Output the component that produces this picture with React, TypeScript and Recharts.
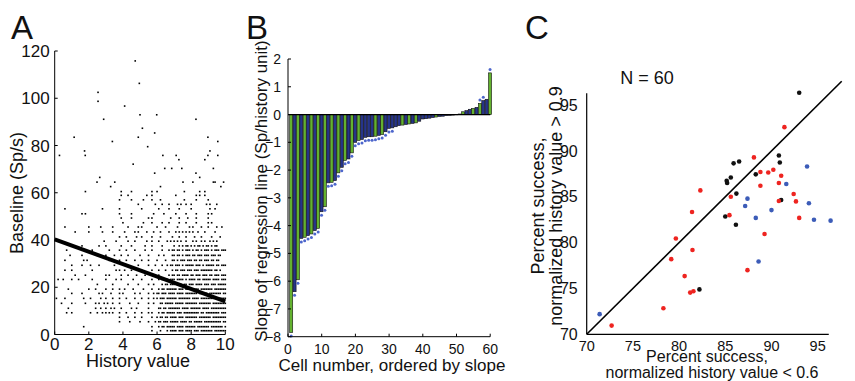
import React from "react";
import { ScatterChart, Scatter, BarChart, Bar, XAxis, YAxis, ReferenceLine } from "recharts";

const FONT = '"Liberation Sans", Arial, Helvetica, sans-serif';
const INK = "#111";

// ---- panel A: baseline vs history value ----
// dense part of the cloud, one string per baseline row: groups of ten
// characters per history unit (0.1 steps), '#' = a trial
const aDotRows: [number, string][] = [
  [1.6, "----------|----------|----------|----------|----------|-------#--|--#---#-##|##-###-###|#-###-####|###-######|#"],
  [3.3, "----------|-------#--|----------|----------|----------|-------#--|-#-##-####|#-####-###|###-######|#-#######-|#"],
  [5.4, "----------|----------|----------|--------#-|----#-----|#----#---#|-##-###-##|###-####-#|#-#####-##|########-#|#"],
  [7.3, "----------|----------|----------|--------#-|---#---#--|-#-----#--|#-##-##-##|##-###-###|####-#####|##-#######|#"],
  [9.2, "-------#--|#---------|-#---#--#-|#-#-#---#-|--#----#--|-#---#-#--|-#-##-####|#-###-####|#####-##-#|#######-##|#"],
  [11.1, "--------#-|----------|----#--#--|#--#-#---#|-----#--#-|-----#----|-##-##-###|####-####-|######-###|#-########|#"],
  [13.2, "----#-----|#-------#-|----#-#--#|-#--#---#-|----#----#|-----#--#-|--##-#####|-#####-###|####-#####|##-#######|#"],
  [15.3, "-#----#---|-------#--|-#-----#--|#---#---#-|--#----#--|-#---#--#-|#-###-####|##-#######|-####-####|#####-####|#"],
  [17.4, "----------|#-----#---|------#-#-|---#----#-|#------#--|#----#--#-|##-###-###|#-####-###|####-#####|-#######-#|#"],
  [19.2, "--------#-|----------|#---#-----|#---#---#-|-#----#---|--#----#--|-#-##-####|##-###-##-|#####-####|###-######|#"],
  [21.2, "----------|----------|-----#----|----#-----|---#-----#|-----#--#-|---#-##-##|#-###-##-#|##-####-##|#-###-####|#"],
  [23.3, "--#--#----|#---#-----|--#-------|#-----#--#|------#---|-#-----#--|-#-##-#-##|#-####-#-#|###-##-###|##-####-##|#"],
  [25.1, "----------|--#-----#-|----------|#-#------#|---#----#-|---#---#--|-#-----#-#|#-##-####-|##-###-###|-##-###-##|#"],
  [27.2, "------#---|#---------|--#-------|------#-#-|-#---#----|-#-----#--|-#---#---#|-##-###-##|#-###-####|###-##-#--|-"],
  [29.3, "----------|#-----#---|-#----#---|-----#----|--#------#|-----#---#|---#--#-##|-###-#-###|##-###-#-#|####-##-##|#"],
  [31.4, "------#---|-------#-#|----------|--#-----#-|--#----#--|-#---#----|#----#---#|#-#-###-##|#-##-##-##|#-##-##---|-"],
  [33.5, "---------#|------#---|-----#----|#----#---#|---#------|#----#----|-#--#----#|#-##-#-###|-##-###-##|#-###-##--|-"],
  [35.7, "-------#--|----------|--#-------|--#-----#-|--#----#--|---#---#--|---#---#-#|#-##-#-###|-#-##-#-##|#-#-###-##|#"],
  [37.5, "----------|------#---|------#---|#--------#|-----#----|---#---#--|---#------|#--#-#-##-|#-#-##-#-#|#-#-##----|-"],
  [39.5, "----------|----------|---------#|------#---|---#---#--|----#--#--|-#----#-#-|#-#-#--#--|-#-#--#-#-|-#-#-#----|-"],
  [41.3, "----------|----------|----------|--------#-|--#-----#-|-#-----#--|--#------#|---#---#--|--#---#---|--#----#--|-"],
  [43.4, "----------|--#-------|#-------#-|----#-----|-#-----#-#|----#---#-|--#----#--|-#-#-#-#-#|-#--#---#-|----#-----|-"],
  [45.5, "------#---|----------|#------#--|----#-----|---#-----#|-#--------|#----#----|--#------#|-#----#---|#----#--#-|-"],
  [47.3, "----------|----------|----------|----------|#---------|--#----#--|---#---#--|---#---#--|---#------|#-#-------|-"],
  [49.3, "----------|----------|----------|---------#|-----#----|-----#-#--|--------#-|---#----#-|---#------|#---------|-"],
  [51.1, "----------|------#-#-|----------|--------#-|-----#----|--------#-|----#-----|-#-----#--|---#------|#-#-------|-"],
  [53.2, "------#---|----------|--------#-|--------#-|----------|-#--------|-#-----#--|---#------|#---------|-#--#-----|-"],
  [55.1, "----------|----------|----------|----------|---------#|---------#|---#---#--|--#-#--#--|#--------#|-#---#----|-"],
  [57.0, "----------|----------|----------|--------#-|-----#----|--#----#--|--#-------|------#---|---#------|#---------|-"],
  [58.9, "----------|----------|----------|---------#|---#------|----#--#--|----------|-#--------|---#-#--#-|----------|-"],
  [60.5, "----------|--------#-|----------|---------#|-----#----|-------#--|#---------|------#---|-----#--#-|----------|-"],
];

// sparse trials above the dense cloud [history value, baseline]
const aSparse: [number, number][] = [
  [0.28, 75.8], [1.14, 83.5], [1.75, 77.7], [1.79, 75.8], [2.48, 64.5], [2.54, 102.5],
  [2.54, 98.7], [2.64, 66.5], [2.87, 91.1], [3.28, 62.6], [3.38, 81.7], [3.52, 64.5],
  [4.1, 96.7], [4.6, 72.1], [4.72, 115.8], [4.9, 83.5], [4.96, 106.3], [5.0, 93.0],
  [5.14, 87.3], [5.45, 79.5], [5.86, 85.3], [5.86, 68.3], [5.98, 93.0], [6.2, 62.6],
  [6.34, 75.8], [6.45, 70.3], [6.86, 70.3], [7.12, 75.8], [7.28, 74.0], [7.45, 70.3],
  [7.52, 64.5], [8.1, 64.5], [8.28, 91.1], [8.28, 68.3], [8.5, 66.5], [8.8, 74.0],
  [8.98, 83.5], [8.98, 75.8], [9.1, 77.7], [9.3, 70.3], [9.3, 64.5], [9.4, 64.5],
  [9.56, 81.7], [9.56, 75.8], [9.74, 62.6], [9.9, 64.5],
];

const aFit = [
  { x: 0, y: 40.3 },
  { x: 10, y: 14.0 },
];
const aTicksX = [0, 2, 4, 6, 8, 10];
const aTicksY = [0, 20, 40, 60, 80, 100, 120];

// ---- panel B: regression slope per cell ----
const bSlopes = [
  -7.85, -6.38, -5.95, -4.46, -4.42, -4.36, -4.3, -4.18, -4.1, -3.5,
  -3.32, -2.46, -2.44, -2.38, -2.1, -1.9, -1.65, -1.6, -1.38, -1.0,
  -0.93, -0.9, -0.82, -0.8, -0.8, -0.78, -0.75, -0.72, -0.62, -0.5,
  -0.48, -0.44, -0.4, -0.38, -0.36, -0.34, -0.32, -0.3, -0.24, -0.16,
  -0.15, -0.13, -0.11, -0.09, -0.07, -0.06, -0.04, -0.03, -0.02, -0.01,
  0.02, 0.1, 0.14, 0.19, 0.22, 0.26, 0.4, 0.5, 0.55, 1.5,
];
const bColors = "gbgbgbgbgbgbgbgbgbgbg" + "bbbbgbgbb" + "bbbgbgbgbb" + "bbbgbbbbbb" + "bgbbgbgbbg";
const bSignificant = [
  1, 2, 3, 4, 5, 6, 7, 8, 9, 10, 11, 12, 13, 14, 15, 16, 17, 18, 19, 20,
  21, 22, 23, 24, 25, 26, 27, 28, 29, 30, 31, 57, 58, 60,
];
const bTicksX = [0, 10, 20, 30, 40, 50, 60];
const bTicksY = [-8, -7, -6, -5, -4, -3, -2, -1, 0, 1, 2];

// ---- panel C: percent success, low vs high history value ----
const cBlack: [number, number][] = [
  [93.0, 96.35], [90.8, 89.5], [90.9, 88.75], [85.9, 88.65], [86.5, 88.85], [88.3, 87.45],
  [85.6, 87.1], [85.15, 86.75], [85.2, 86.5], [86.2, 85.35], [85.0, 82.85], [86.15, 81.95],
  [91.05, 84.65], [82.2, 74.9],
];
const cRed: [number, number][] = [
  [91.4, 92.6], [88.1, 89.3], [88.8, 87.7], [89.65, 87.65], [90.2, 87.95], [88.8, 86.2],
  [91.05, 87.3], [90.8, 86.5], [92.4, 85.3], [92.65, 84.5], [90.8, 84.55], [93.0, 82.7],
  [89.25, 80.95], [87.4, 77.0], [85.6, 85.0], [85.45, 83.0], [82.3, 85.7], [81.4, 83.35],
  [79.65, 80.45], [81.45, 79.2], [79.15, 78.2], [80.6, 76.35], [81.55, 74.7], [81.2, 74.55],
  [78.3, 72.85], [72.7, 70.95],
];
const cBlue: [number, number][] = [
  [71.4, 72.2], [93.85, 88.3], [91.6, 86.4], [87.4, 84.8], [87.15, 84.0], [90.0, 83.55],
  [88.3, 82.7], [94.05, 84.3], [94.6, 82.5], [96.4, 82.4], [88.6, 77.95],
];
const cTicks = [70, 75, 80, 85, 90, 95];
const cUnity = [
  { x: 70, y: 70 },
  { x: 97.6, y: 97.6 },
];
const cAxisX = [
  { x: 70, y: 70 },
  { x: 96.2, y: 70 },
];
const cAxisY = [
  { x: 70, y: 70 },
  { x: 70, y: 96.3 },
];

const GREEN = "#63b22f";
const NAVY = "#26348a";
const STAR = "#4d66cc";

function expandRow(y: number, dots: string) {
  const pts: { x: number; y: number }[] = [];
  dots.split("|").forEach((grp, k) => {
    for (let j = 0; j < grp.length; j++) {
      if (grp[j] === "#") pts.push({ x: k + j / 10, y });
    }
  });
  return pts;
}

const aPoints = [
  ...aDotRows.flatMap(([y, s]) => expandRow(y, s)),
  ...aSparse.map(([x, y]) => ({ x, y })),
];

const bData = bSlopes.map((s, i) => ({
  cell: i + 1,
  slope: s,
  color: bColors[i],
  sig: bSignificant.includes(i + 1),
}));

const toXY = (arr: [number, number][]) => arr.map(([x, y]) => ({ x, y }));

const minus = (v: number) => (v < 0 ? "\u2212" + Math.abs(v) : String(v));

const tickA = { fontSize: 17, fill: INK };

function Dot(props: any) {
  const { cx, cy } = props;
  return <rect x={cx - 0.8} y={cy - 0.8} width={1.6} height={1.6} fill="#000" />;
}

function colorDot(color: string) {
  return (props: any) => <circle cx={props.cx} cy={props.cy} r={2.3} fill={color} />;
}

function SlopeBar(props: any) {
  const { x, y, width, height, payload } = props;
  const top = Math.min(y, y + height);
  const h = Math.abs(height);
  const neg = payload.slope < 0;
  return (
    <g>
      <rect x={x} y={top} width={width} height={h} fill={payload.color === "g" ? GREEN : NAVY} stroke="#111" strokeWidth={0.6} />
      {payload.sig && <circle cx={x + width / 2} cy={neg ? top + h + 3.5 : top - 3.5} r={1.5} fill={STAR} />}
    </g>
  );
}

function PanelA() {
  return (
    <ScatterChart width={250} height={381} margin={{ top: 51, right: 24.7, bottom: 16.5, left: 4.7 }}>
      <XAxis
        type="number"
        dataKey="x"
        domain={[0, 10]}
        ticks={aTicksX}
        tick={tickA}
        tickSize={-3}
        tickMargin={6}
        height={30}
        stroke="#000"
      />
      <YAxis
        type="number"
        dataKey="y"
        domain={[0, 120]}
        ticks={aTicksY}
        tick={tickA}
        tickSize={-3}
        tickMargin={8}
        width={50}
        stroke="#000"
      />
      <Scatter data={aPoints} shape={Dot} isAnimationActive={false} />
      <ReferenceLine segment={aFit} stroke="#000" strokeWidth={4} ifOverflow="visible" />
    </ScatterChart>
  );
}

function PanelB() {
  return (
    <BarChart width={260} height={381} data={bData} margin={{ top: 59, right: 19.8, bottom: 14.3, left: 0 }}>
      <XAxis
        type="number"
        dataKey="cell"
        domain={[0, 60]}
        ticks={bTicksX}
        tick={{ fontSize: 14, fill: INK }}
        tickSize={-3}
        tickMargin={10}
        height={30}
        stroke="#000"
      />
      <YAxis
        type="number"
        domain={[-8, 2]}
        ticks={bTicksY}
        interval={0}
        tickFormatter={minus}
        tick={{ fontSize: 14, fill: INK }}
        tickSize={-3}
        tickMargin={10}
        width={38}
        stroke="#000"
      />
      <Bar dataKey="slope" barSize={3.4} shape={SlopeBar} isAnimationActive={false} />
      <ReferenceLine y={0} stroke="#000" strokeWidth={1.2} />
    </BarChart>
  );
}

function PanelC() {
  return (
    <ScatterChart width={345} height={381} margin={{ top: 81.3, right: 13.3, bottom: 16.7, left: 36.7 }}>
      <XAxis
        type="number"
        dataKey="x"
        domain={[70, 97.6]}
        ticks={cTicks}
        tick={{ fontSize: 14.5, fill: INK }}
        tickLine={false}
        axisLine={false}
        tickMargin={0}
        height={30}
      />
      <YAxis
        type="number"
        dataKey="y"
        domain={[70, 97.6]}
        ticks={cTicks}
        tick={{ fontSize: 16, fill: INK }}
        tickLine={false}
        axisLine={false}
        tickMargin={3}
        width={40}
      />
      <ReferenceLine segment={cAxisX} stroke="#000" strokeWidth={1.2} ifOverflow="visible" />
      <ReferenceLine segment={cAxisY} stroke="#000" strokeWidth={1.2} ifOverflow="visible" />
      <ReferenceLine segment={cUnity} stroke="#000" strokeWidth={1.6} ifOverflow="visible" />
      <Scatter data={toXY(cBlack)} shape={colorDot("#111")} isAnimationActive={false} />
      <Scatter data={toXY(cRed)} shape={colorDot("#ee2420")} isAnimationActive={false} />
      <Scatter data={toXY(cBlue)} shape={colorDot("#3c5cb8")} isAnimationActive={false} />
    </ScatterChart>
  );
}

export default function App() {
  const title = { fontSize: 18, fill: INK, textAnchor: "middle" as const };
  return (
    <div
      style={{
        position: "absolute",
        left: 0,
        top: 0,
        width: 855,
        height: 381,
        background: "#fff",
        fontFamily: FONT,
        overflow: "hidden",
      }}
    >
      <div style={{ position: "absolute", left: 0, top: 0 }}>
        <PanelA />
      </div>
      <div style={{ position: "absolute", left: 250, top: 0 }}>
        <PanelB />
      </div>
      <div style={{ position: "absolute", left: 510, top: 0 }}>
        <PanelC />
      </div>
      <svg width={855} height={381} style={{ position: "absolute", left: 0, top: 0, pointerEvents: "none" }}>
        <text x={11} y={39} fontSize={33} fill={INK}>A</text>
        <text x={246} y={39} fontSize={33} fill={INK}>B</text>
        <text x={525} y={39} fontSize={33} fill={INK}>C</text>

        <text x={138} y={367} {...title}>History value</text>
        <text x={17} y={193} {...title} dominantBaseline="central" transform="rotate(-90 17 193)">Baseline (Sp/s)</text>

        <text x={392} y={371} {...title} fontSize={17}>Cell number, ordered by slope</text>
        <text x={261} y={191} {...title} fontSize={17} dominantBaseline="central" transform="rotate(-90 261 191)">
          Slope of regression line (Sp/history unit)
        </text>

        <text x={647} y={84} {...title}>N = 60</text>
        <text x={538} y={206} {...title} dominantBaseline="central" transform="rotate(-90 538 206)">Percent success,</text>
        <text x={556} y={206} {...title} dominantBaseline="central" transform="rotate(-90 556 206)">
          normalized history value &gt; 0.9
        </text>
        <text x={707} y={362} {...title} fontSize={16}>Percent success,</text>
        <text x={712} y={378} {...title} fontSize={16}>normalized history value &lt; 0.6</text>
      </svg>
    </div>
  );
}
